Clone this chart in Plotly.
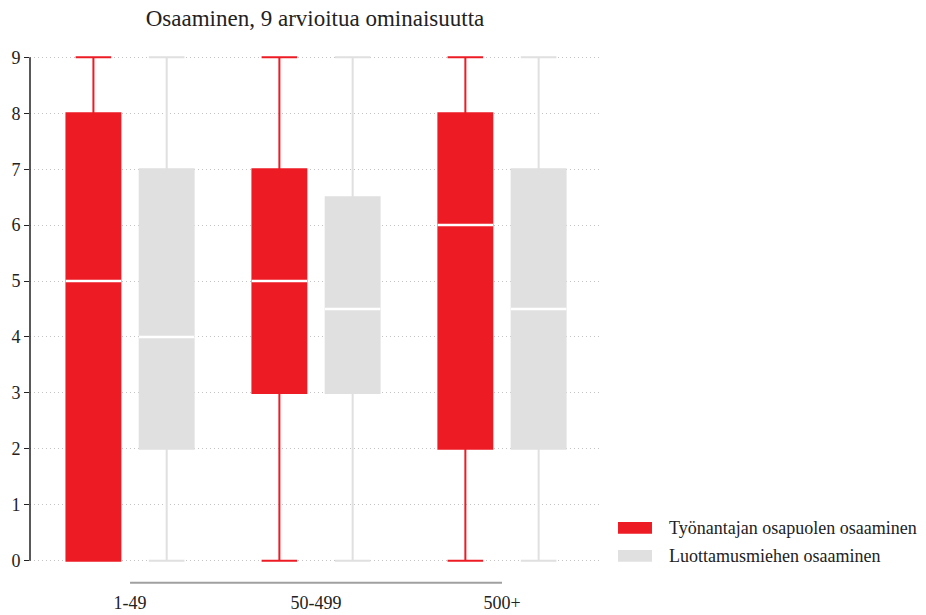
import plotly.graph_objects as go

# Company size groups
categories = ["1-49", "50-499", "500+"]

# Five-number summaries for each series (per group)
employer_min = [0, 0, 0]
employer_q1 = [0, 3, 2]
employer_median = [5, 5, 6]
employer_q3 = [8, 7, 8]
employer_max = [9, 9, 9]

steward_min = [0, 0, 0]
steward_q1 = [2, 3, 2]
steward_median = [4, 4.5, 4.5]
steward_q3 = [7, 6.5, 7]
steward_max = [9, 9, 9]

series_names = ["Työnantajan osapuolen osaaminen", "Luottamusmiehen osaaminen"]
y_ticks = [0, 1, 2, 3, 4, 5, 6, 7, 8, 9]

RED = "#ED1C24"
GREY = "#E0E0E0"
FONT = "Liberation Serif, Times New Roman, serif"

offset = 0.197
box_w = 0.29
group_pos = [i + 1 for i in range(len(categories))]

fig = go.Figure()

series = [
    (series_names[0], RED, -offset, employer_min, employer_q1, employer_median, employer_q3, employer_max),
    (series_names[1], GREY, offset, steward_min, steward_q1, steward_median, steward_q3, steward_max),
]

for name, color, off, lo, q1, med, q3, hi in series:
    xs = [p + off for p in group_pos]
    fig.add_trace(go.Box(
        name=name,
        x=xs,
        lowerfence=lo, q1=q1, median=med, q3=q3, upperfence=hi,
        width=box_w,
        whiskerwidth=0.66,
        fillcolor=color,
        line=dict(color=color, width=2),
        showlegend=False,
        hoverinfo="skip",
    ))
    # white median bars across each box
    mx, my = [], []
    for x, m in zip(xs, med):
        mx += [x - box_w / 2 - 0.004, x + box_w / 2 + 0.004, None]
        my += [m, m, None]
    fig.add_trace(go.Scatter(
        x=mx, y=my, mode="lines",
        line=dict(color="white", width=2.5),
        showlegend=False, hoverinfo="skip",
    ))

# left axis line spanning 0..9
fig.add_shape(type="line", xref="paper", yref="y", x0=0, x1=0,
              y0=y_ticks[0], y1=y_ticks[-1], line=dict(color="#222", width=1.5))
# grey baseline under the group labels
fig.add_shape(type="line", xref="x", yref="paper", x0=group_pos[0], x1=group_pos[-1],
              y0=-0.037, y1=-0.037, line=dict(color="#a0a0a0", width=2))

# legend drawn as swatches with labels
legend_rows = [(series_names[0], RED, 0.071), (series_names[1], GREY, 0.016)]
for label, color, yc in legend_rows:
    fig.add_shape(type="rect", xref="paper", yref="paper",
                  x0=1.0316, x1=1.0912, y0=yc - 0.0115, y1=yc + 0.0115,
                  fillcolor=color, line=dict(width=0))
    fig.add_annotation(xref="paper", yref="paper", x=1.1175, y=yc,
                       xanchor="left", yanchor="middle", showarrow=False,
                       text=label, font=dict(family=FONT, size=18, color="#222"))

fig.update_layout(
    width=926, height=615,
    margin=dict(l=30, r=326, t=54, b=51),
    plot_bgcolor="white", paper_bgcolor="white",
    title=dict(text="Osaaminen, 9 arvioitua ominaisuutta", x=315 / 926, xanchor="center",
               y=1 - 18 / 615, yanchor="middle",
               font=dict(family=FONT, size=23, color="#222")),
    font=dict(family=FONT, color="#222"),
    showlegend=False,
)

fig.update_xaxes(
    range=[0.462, 3.527],
    tickvals=group_pos, ticktext=categories,
    showgrid=False, zeroline=False, showline=False,
    ticks="outside", ticklen=22, tickcolor="rgba(0,0,0,0)",
    tickfont=dict(family=FONT, size=18, color="#222"),
    automargin=False,
)
fig.update_yaxes(
    range=[-0.06, 9.06],
    tickvals=y_ticks,
    showgrid=True, gridcolor="#c4c4c4", griddash="1px,3px", gridwidth=1,
    zeroline=False, showline=False,
    ticks="outside", ticklen=5, tickcolor="#222",
    tickfont=dict(family=FONT, size=18, color="#222"),
    automargin=False,
)

fig.write_html("out.html")
